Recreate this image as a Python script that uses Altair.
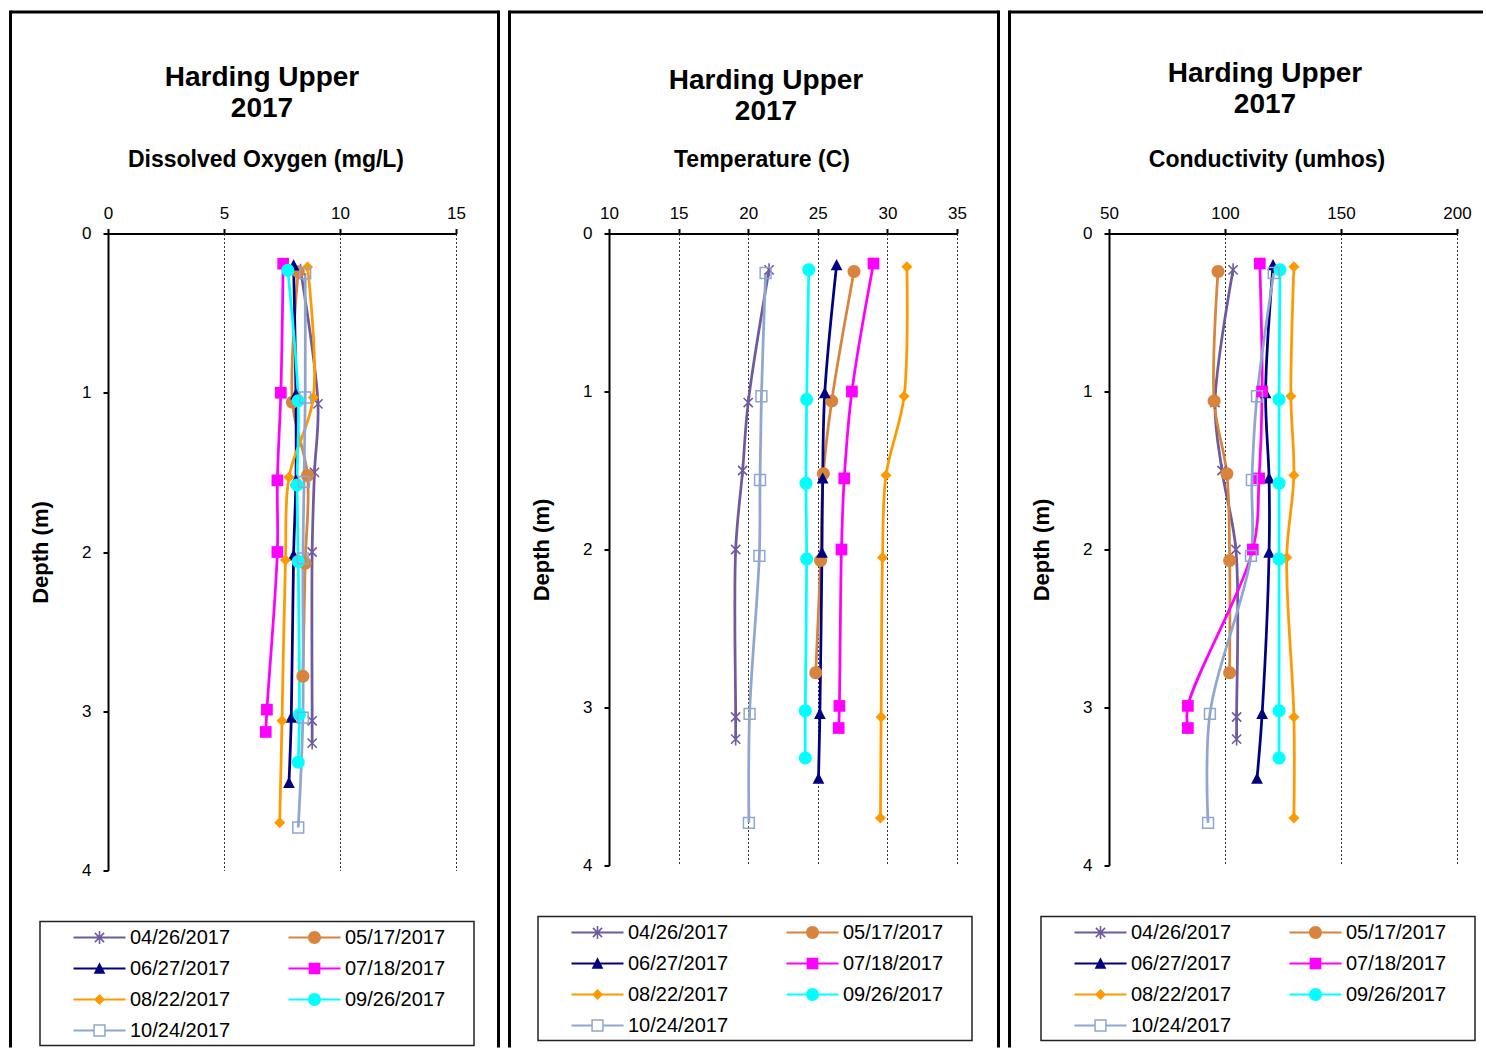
import math
import altair as alt
import pandas as pd

FONT = "Liberation Sans"

dates = ["04/26/2017", "05/17/2017", "06/27/2017", "07/18/2017",
         "08/22/2017", "09/26/2017", "10/24/2017"]
series_colors = ["#6E5A9C", "#D8843C", "#000080", "#FF00FF",
                 "#FF9900", "#00FFFF", "#8FA7CE"]

depth_m = {
    "04/26/2017": [0.23, 1.07, 1.50, 2.00, 3.06, 3.20],
    "05/17/2017": [0.24, 1.06, 1.52, 2.07, 2.78],
    "06/27/2017": [0.20, 1.01, 1.55, 2.02, 3.04, 3.45],
    "07/18/2017": [0.19, 1.00, 1.55, 2.00, 2.99, 3.13],
    "08/22/2017": [0.21, 1.03, 1.53, 2.05, 3.06, 3.70],
    "09/26/2017": [0.23, 1.05, 1.58, 2.06, 3.02, 3.32],
    "10/24/2017": [0.25, 1.03, 1.56, 2.04, 3.04, 3.73],
}
dissolved_oxygen = {
    "04/26/2017": [8.3, 9.05, 8.9, 8.8, 8.8, 8.8],
    "05/17/2017": [8.2, 7.95, 8.6, 8.5, 8.4],
    "06/27/2017": [8.0, 8.1, 8.1, 8.0, 7.9, 7.8],
    "07/18/2017": [7.55, 7.45, 7.3, 7.3, 6.85, 6.8],
    "08/22/2017": [8.6, 8.85, 7.8, 7.65, 7.5, 7.4],
    "09/26/2017": [7.75, 8.2, 8.15, 8.2, 8.25, 8.2],
    "10/24/2017": [8.5, 8.5, 8.45, 8.4, 8.4, 8.2],
}
temperature = {
    "04/26/2017": [21.5, 20.0, 19.6, 19.1, 19.1, 19.1],
    "05/17/2017": [27.6, 26.0, 25.4, 25.2, 24.85],
    "06/27/2017": [26.35, 25.5, 25.35, 25.3, 25.15, 25.05],
    "07/18/2017": [29.0, 27.45, 26.9, 26.7, 26.55, 26.5],
    "08/22/2017": [31.4, 31.2, 29.9, 29.65, 29.55, 29.5],
    "09/26/2017": [24.35, 24.2, 24.15, 24.2, 24.1, 24.1],
    "10/24/2017": [21.25, 20.95, 20.85, 20.8, 20.1, 20.05],
}
conductivity = {
    "04/26/2017": [103.5, 95.7, 98.7, 104.7, 105.0, 105.0],
    "05/17/2017": [97.0, 95.3, 100.8, 102.0, 102.0],
    "06/27/2017": [120.7, 117.5, 119.0, 119.0, 116.0, 113.8],
    "07/18/2017": [115.0, 116.0, 114.7, 112.0, 84.0, 84.0],
    "08/22/2017": [129.7, 128.4, 129.7, 126.6, 129.7, 129.7],
    "09/26/2017": [123.7, 123.3, 123.3, 123.3, 123.3, 123.3],
    "10/24/2017": [121.0, 113.8, 111.6, 111.2, 93.5, 92.7],
}

rows = []
for d in dates:
    for i, dep in enumerate(depth_m[d]):
        rows.append({"date": d, "depth": dep,
                     "do": dissolved_oxygen[d][i],
                     "temp": temperature[d][i],
                     "cond": conductivity[d][i]})
df = pd.DataFrame(rows)
one = pd.DataFrame({"k": [0]})


# ---------- marker shapes (unit paths, all same winding) ----------
def bar(hl, ht, ang, cx=0.0, cy=0.0):
    c, s = math.cos(ang), math.sin(ang)
    pts = [(-hl, -ht), (hl, -ht), (hl, ht), (-hl, ht)]
    return [(cx + x * c - y * s, cy + x * s + y * c) for x, y in pts]


def poly(pts):
    return "M" + "L".join(f"{x:.3f},{y:.3f}" for x, y in pts) + "Z"


star = (poly(bar(1.0, 0.12, math.pi / 4)) + poly(bar(1.0, 0.12, -math.pi / 4))
        + poly(bar(1.0, 0.12, math.pi / 2)))
circle = "M1,0A1,1,0,1,1,-1,0A1,1,0,1,1,1,0Z"
triangle = poly([(0, -0.95), (0.9, 0.8), (-0.9, 0.8)])
square = poly([(-0.9, -0.9), (0.9, -0.9), (0.9, 0.9), (-0.9, 0.9)])
diamond = poly([(0, -0.85), (0.85, 0), (0, 0.85), (-0.85, 0)])
open_square = (poly([(-0.95, -0.95), (0.95, -0.95), (0.95, 0.95), (-0.95, 0.95)])
               + poly([(-0.72, -0.72), (-0.72, 0.72), (0.72, 0.72), (0.72, -0.72)]))

marker_paths = [star, circle, triangle, square, diamond, circle, open_square]

full_line = poly(bar(4.0, 0.16, 0))
split_line = (poly([(-4, -0.16), (-0.95, -0.16), (-0.95, 0.16), (-4, 0.16)])
              + poly([(0.95, -0.16), (4, -0.16), (4, 0.16), (0.95, 0.16)]))
legend_paths = [full_line + m for m in marker_paths[:-1]] + [split_line + open_square]

color_scale = alt.Scale(domain=dates, range=series_colors)


def panel(field, subtitle, x_domain, x_ticks, height, left_x, right_x,
          box, title_x, title_y, sub_x):
    bx1, bx2, by1, by2 = box
    x = alt.X(f"{field}:Q",
              scale=alt.Scale(domain=x_domain, nice=False, zero=False),
              axis=alt.Axis(orient="top", values=x_ticks, title=None, grid=True,
                            labelFlush=False,
                            gridDash=[2, 2], gridColor="#333333", gridWidth=1))
    y = alt.Y("depth:Q",
              scale=alt.Scale(domain=[0, 4], reverse=True, nice=False, zero=False),
              axis=alt.Axis(values=[0, 1, 2, 3, 4], title="Depth (m)", grid=False,
                            labelFlush=False, titlePadding=29))
    base = alt.Chart(df)
    lines = base.mark_line(interpolate="catmull-rom", strokeWidth=2.75).encode(
        x=x, y=y,
        color=alt.Color("date:N", scale=color_scale, legend=None),
        order="depth:Q")
    pts = base.mark_point(filled=True, opacity=1, size=169, strokeWidth=0).encode(
        x=x, y=y,
        color=alt.Color("date:N", scale=color_scale, legend=None),
        shape=alt.Shape("date:N", scale=alt.Scale(domain=dates, range=marker_paths),
                        legend=None))
    leg = alt.Legend(title=None, orient="none", legendX=bx1, legendY=by1,
                     direction="horizontal", columns=2, columnPadding=30,
                     rowPadding=11, padding=6,
                     symbolSize=169, symbolOffset=43.5,
                     labelOffset=20.5, labelFont=FONT, labelFontSize=20,
                     labelColor="black", symbolStrokeWidth=0)
    legend_layer = base.transform_filter("false").mark_point(
        filled=True, opacity=1, size=169).encode(
        x=x, y=y,
        color=alt.Color("date:N", scale=color_scale, legend=leg),
        shape=alt.Shape("date:N", scale=alt.Scale(domain=dates, range=legend_paths),
                        legend=leg))
    rb = alt.Chart(one)
    frame = dict(color="black", strokeWidth=3, strokeCap="butt")
    layers = [
        rb.mark_rule(**frame).encode(
            x=alt.value(left_x), x2=alt.value(right_x if right_x else 374),
            y=alt.value(-221.5)),
        rb.mark_rule(**frame).encode(
            x=alt.value(left_x), y=alt.value(-223), y2=alt.value(814)),
    ]
    if right_x:
        layers.append(rb.mark_rule(**frame).encode(
            x=alt.value(right_x), y=alt.value(-223), y2=alt.value(814)))
    layers.append(rb.mark_rect(fill="transparent", stroke="#222222",
                               strokeWidth=1.5).encode(
        x=alt.value(bx1), x2=alt.value(bx2), y=alt.value(by1), y2=alt.value(by2)))
    titles = [
        rb.mark_text(text=["Harding Upper", "2017"], font=FONT, fontSize=28,
                     fontWeight="bold", lineHeight=31, align="center",
                     baseline="alphabetic", color="black").encode(
            x=alt.value(title_x), y=alt.value(title_y)),
        rb.mark_text(text=subtitle, font=FONT, fontSize=23, fontWeight="bold",
                     align="center", baseline="alphabetic", color="black").encode(
            x=alt.value(sub_x), y=alt.value(-67)),
    ]
    layers += titles + [lines, pts, legend_layer]
    return alt.layer(*layers).resolve_scale(
        color="independent", shape="independent"
    ).properties(width=348, height=height)


p1 = panel("do", "Dissolved Oxygen (mg/L)", [0, 15], [0, 5, 10, 15], 637,
           -97.5, 390.5, (-68, 366, 688, 812), 154, -148, 158)
p2 = panel("temp", "Temperature (C)", [10, 35], [10, 15, 20, 25, 30, 35], 632,
           -99.5, 389.5, (-71, 363, 683, 807), 157, -145, 153)
p3 = panel("cond", "Conductivity (umhos)", [50, 200], [50, 100, 150, 200], 632,
           -99.5, None, (-68, 366, 683, 807), 156, -152, 158)

chart = alt.hconcat(p1, p2, p3, spacing=8).properties(
    padding={"left": 9, "top": 8.5, "right": 0, "bottom": 0}
).configure(font=FONT).configure_view(stroke=None).configure_axis(
    labelFont=FONT, labelFontSize=17, labelColor="black",
    domainColor="black", domainWidth=2, tickColor="black", tickWidth=2,
    tickSize=5, labelPadding=6,
    titleFont=FONT, titleFontSize=22, titleFontWeight="bold", titleColor="black"
).configure_axisY(labelPadding=12)

chart.save("out.html", embed_options={"renderer": "svg", "actions": False})
